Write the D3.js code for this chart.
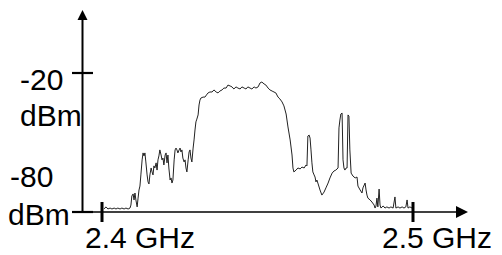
<!DOCTYPE html>
<html>
<head>
<meta charset="utf-8">
<style>
  body { margin: 0; background: #fff; }
  text { font-family: "Liberation Sans", Arial, sans-serif; font-size: 30px; fill: #000; }
</style>
</head>
<body>
<script src="https://d3js.org/d3.v7.min.js"></script>
<script>

// spectrum trace, frequency in MHz and level in dBm
var freqMHz = [2400.6,2401.3,2401.9,2402.6,2403.2,2403.9,2404.5,2405.1,2405.8,2406.4,2407.1,2407.7,2408.4,2409.0,2409.3,2409.6,2410.0,2410.3,2410.6,2410.9,2411.3,2411.6,2411.9,2412.2,2412.5,2412.9,2413.2,2413.5,2413.8,2414.1,2414.5,2414.8,2415.1,2415.4,2415.8,2416.1,2416.4,2416.7,2417.0,2417.4,2417.7,2418.0,2418.3,2418.6,2419.0,2419.3,2419.6,2419.9,2420.3,2420.6,2420.9,2421.2,2421.5,2421.9,2422.2,2422.5,2422.8,2423.2,2423.5,2423.8,2424.1,2424.4,2424.8,2425.1,2425.4,2425.7,2426.0,2426.4,2426.7,2427.0,2427.3,2427.7,2428.0,2428.3,2428.6,2428.9,2429.3,2429.6,2429.9,2430.2,2430.5,2430.9,2431.2,2431.5,2431.8,2432.5,2433.1,2433.8,2434.1,2434.7,2435.4,2436.0,2436.7,2437.3,2437.9,2438.6,2439.2,2439.9,2440.5,2441.2,2441.8,2442.4,2443.1,2443.7,2444.4,2445.0,2445.7,2446.3,2446.9,2447.6,2448.2,2448.9,2449.5,2450.2,2450.8,2451.4,2452.1,2452.7,2453.4,2454.0,2454.7,2455.3,2455.9,2456.6,2457.2,2457.9,2458.5,2459.2,2459.8,2460.5,2461.1,2461.4,2461.7,2462.4,2463.0,2463.7,2464.3,2465.0,2465.6,2465.9,2466.2,2466.6,2466.9,2467.2,2467.5,2467.8,2468.2,2468.5,2468.8,2469.1,2469.5,2470.1,2470.7,2471.4,2472.0,2472.7,2473.3,2474.0,2474.6,2475.2,2475.9,2476.2,2476.5,2476.8,2477.2,2477.5,2477.8,2478.1,2478.5,2478.8,2479.1,2479.4,2479.7,2480.1,2480.7,2481.4,2482.0,2482.3,2483.0,2483.6,2483.9,2484.6,2484.9,2485.2,2485.5,2486.2,2486.8,2487.5,2487.8,2488.1,2488.4,2488.7,2489.1,2489.4,2489.7,2490.4,2491.0,2491.6,2492.3,2492.9,2493.6,2494.2,2494.5,2495.2,2495.8,2496.5,2497.1,2497.7,2498.1,2498.4,2499.0,2499.7];
var levelDbm = [-78.7,-77.8,-78.7,-78.3,-78.7,-78.3,-78.7,-78.3,-78.7,-78.3,-78.7,-78.3,-78.7,-78.3,-77.0,-73.1,-72.2,-74.8,-71.8,-74.8,-77.8,-74.0,-70.5,-68.8,-64.0,-57.5,-54.5,-55.8,-54.5,-58.4,-64.0,-67.0,-67.9,-64.0,-61.0,-62.7,-64.0,-60.1,-61.0,-58.8,-61.9,-57.5,-55.8,-53.2,-55.4,-57.5,-56.7,-59.7,-55.4,-54.5,-58.8,-55.4,-61.0,-66.2,-65.3,-67.5,-66.2,-57.5,-53.2,-52.4,-53.2,-54.5,-53.2,-52.4,-54.1,-53.2,-56.7,-58.4,-57.5,-61.0,-62.7,-57.5,-54.1,-53.2,-56.7,-58.4,-52.4,-48.9,-44.6,-41.1,-39.9,-38.1,-33.8,-31.7,-30.8,-30.4,-30.4,-29.1,-28.6,-28.2,-28.2,-27.3,-28.2,-28.6,-27.8,-27.3,-26.5,-26.5,-25.2,-25.6,-26.0,-26.9,-26.0,-26.5,-26.9,-26.0,-26.5,-26.9,-26.0,-26.5,-26.9,-26.0,-26.5,-26.0,-24.3,-23.9,-24.7,-25.2,-26.5,-27.3,-27.8,-28.2,-28.6,-30.4,-31.2,-32.5,-34.2,-37.7,-43.3,-48.9,-55.4,-61.0,-62.7,-61.9,-61.0,-61.4,-60.6,-61.0,-59.7,-60.1,-47.2,-46.8,-48.1,-53.2,-58.8,-62.7,-64.0,-64.9,-67.0,-66.2,-67.9,-70.5,-72.7,-71.4,-69.6,-67.5,-65.3,-63.2,-62.3,-61.9,-61.0,-43.7,-40.3,-37.7,-37.3,-57.5,-61.0,-61.9,-61.0,-61.0,-38.1,-38.6,-53.2,-63.2,-64.5,-65.3,-64.9,-68.8,-70.5,-71.8,-69.6,-67.5,-70.5,-72.7,-74.0,-74.8,-75.7,-77.0,-78.3,-77.4,-74.0,-77.8,-70.1,-77.0,-78.3,-77.4,-78.3,-77.8,-78.3,-77.8,-78.3,-73.5,-78.3,-77.8,-78.3,-77.8,-78.3,-77.8,-74.8,-78.3,-77.8,-78.3];

var yTicks = [-20, -80];
var xTicks = [2400, 2500];
var xTickLabels = ["2.4 GHz", "2.5 GHz"];

var width = 502, height = 255;

var x = d3.scaleLinear().domain([2400, 2500]).range([102, 413]);
var y = d3.scaleLinear().domain([-80, -20]).range([212, 73]);

var svg = d3.select("body").append("svg")
    .attr("width", width)
    .attr("height", height);

var axisX0 = 82.5, axisY0 = y(-80);

// trace
var pts = freqMHz.map(function(f, i) { return [f, levelDbm[i]]; });
svg.append("path")
    .datum(pts)
    .attr("fill", "none")
    .attr("stroke", "#222")
    .attr("stroke-width", 1)
    .attr("d", d3.line().x(function(d) { return x(d[0]); }).y(function(d) { return y(d[1]); }));

// axes with arrows
svg.append("line")
    .attr("x1", axisX0).attr("y1", axisY0)
    .attr("x2", axisX0).attr("y2", 18)
    .attr("stroke", "#000").attr("stroke-width", 2);
svg.append("path")
    .attr("d", "M" + (axisX0 - 5) + ",20 L" + axisX0 + ",10 L" + (axisX0 + 5) + ",20 Z")
    .attr("fill", "#000");

svg.append("line")
    .attr("x1", axisX0).attr("y1", axisY0)
    .attr("x2", 458).attr("y2", axisY0)
    .attr("stroke", "#000").attr("stroke-width", 1.6);
svg.append("path")
    .attr("d", "M456," + (axisY0 - 6) + " L468," + axisY0 + " L456," + (axisY0 + 6) + " Z")
    .attr("fill", "#000");

// y ticks
svg.selectAll(".ytick").data(yTicks).enter().append("line")
    .attr("x1", 72).attr("x2", 93)
    .attr("y1", function(d) { return y(d); })
    .attr("y2", function(d) { return y(d); })
    .attr("stroke", "#000").attr("stroke-width", 2.2);

// x ticks
svg.selectAll(".xtick").data(xTicks).enter().append("line")
    .attr("x1", function(d) { return x(d); })
    .attr("x2", function(d) { return x(d); })
    .attr("y1", axisY0 - 10).attr("y2", axisY0 + 10)
    .attr("stroke", "#000").attr("stroke-width", 3);

// y labels (number + unit on two lines)
var yLab = [{v: -20, dx: 20, dy1: 17, dx2: 20, dy2: 53},
            {v: -80, dx: 10, dy1: -25, dx2: 8, dy2: 13}];
yLab.forEach(function(l) {
  svg.append("text").attr("x", l.dx).attr("y", y(l.v) + l.dy1).text(l.v);
  svg.append("text").attr("x", l.dx2).attr("y", y(l.v) + l.dy2).text("dBm");
});

// x labels
var xOff = [-17, -31];
svg.selectAll(".xlab").data(xTicks).enter().append("text")
    .attr("x", function(d, i) { return x(d) + xOff[i]; })
    .attr("y", 248)
    .text(function(d, i) { return xTickLabels[i]; });

</script>
</body>
</html>
